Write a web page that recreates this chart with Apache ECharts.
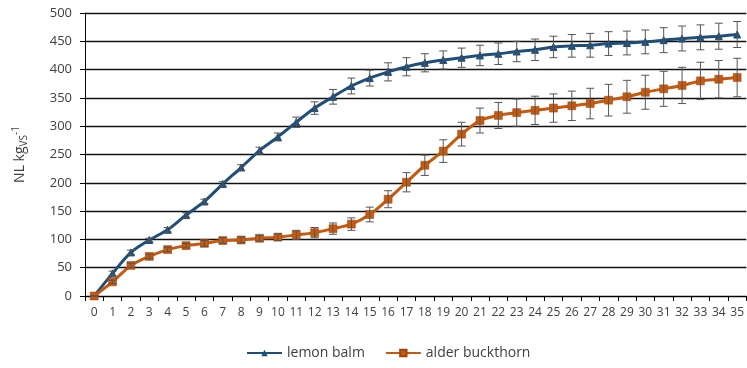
<!DOCTYPE html>
<html><head><meta charset="utf-8">
<script src="https://cdn.jsdelivr.net/npm/echarts@6/dist/echarts.min.js"></script>
<style>html,body{margin:0;padding:0;background:#fff}#c{width:747px;height:368px}</style>
</head><body><div id="c"></div>
<script>
var categories = [];
for (var i = 0; i <= 35; i++) categories.push(String(i));
var lemonBalm = [0,40,77,99,117,143,167,198,227,257,281,307,332,352,371,385,396,405,412,417,421,425,428,432,435,440,442,443,446,447,449,452,455,457,459,462];
var lemonErr  = [0,4,4,3,4,4,4,4,5,6,7,9,11,13,14,14,16,16,16,16,17,18,19,18,19,19,20,21,21,21,21,22,22,22,23,23];
var alderBuck = [0,25,54,70,82,89,93,98,99,102,104,108,112,119,127,144,171,201,231,256,286,310,319,324,328,332,336,340,346,352,360,366,372,380,383,386];
var alderErr  = [0,3,4,4,4,4,5,5,5,5,6,8,9,10,11,13,15,17,18,20,21,22,23,24,25,25,26,27,28,29,30,31,32,33,33,34];
var yTicks = [0,50,100,150,200,250,300,350,400,450,500];

function errData(vals, errs){
  return vals.map(function(v,i){ return [i, v - errs[i], v + errs[i]]; });
}
function renderErr(params, api){
  var x = api.value(0);
  var lo = api.coord([x, api.value(1)]);
  var hi = api.coord([x, api.value(2)]);
  var w = 4;
  var st = {stroke:'#555', lineWidth:1};
  return {type:'group', children:[
    {type:'line', shape:{x1:hi[0],y1:hi[1],x2:lo[0],y2:lo[1]}, style:st},
    {type:'line', shape:{x1:hi[0]-w,y1:hi[1],x2:hi[0]+w,y2:hi[1]}, style:st},
    {type:'line', shape:{x1:lo[0]-w,y1:lo[1],x2:lo[0]+w,y2:lo[1]}, style:st}
  ]};
}
var blue = '#1f4e79', orange = '#c55a11';
var chart = echarts.init(document.getElementById('c'));
chart.setOption({
  animation:false,
  textStyle:{fontFamily:'Open Sans', color:'#404040'},
  grid:{left:85, right:-1, top:13, bottom:72},
  legend:{
    top:341, left:241, itemGap:20, itemWidth:35, itemHeight:8,
    textStyle:{fontSize:14, color:'#404040', fontFamily:'Open Sans'},
    data:['lemon balm','alder buckthorn']
  },
  xAxis:{
    type:'category', data:categories, boundaryGap:true,
    axisLine:{lineStyle:{color:'#000', width:1}},
    axisTick:{show:true, alignWithLabel:false, length:5, lineStyle:{color:'#000'}},
    axisLabel:{interval:0, fontSize:12, color:'#404040', margin:11}
  },
  yAxis:{
    type:'value', min:0, max:500, interval:50,
    name:'NL kg{sub|VS}{sup|-1}', nameLocation:'middle', nameGap:56, nameRotate:90,
    nameTextStyle:{fontSize:14, color:'#404040', rich:{sub:{fontSize:10, verticalAlign:'bottom', padding:[6,0,0,0]}, sup:{fontSize:10, verticalAlign:'top', padding:[0,0,8,0]}}},
    axisLine:{show:true, lineStyle:{color:'#000'}},
    axisTick:{show:true, length:5, lineStyle:{color:'#000'}},
    axisLabel:{fontSize:13, color:'#404040', margin:13, formatter:function(v){ return yTicks.indexOf(v) >= 0 ? String(v) : ''; }},
    splitLine:{lineStyle:{color:'#111', width:1.3}}
  },
  series:[
    {name:'lemon balm', type:'line', data:lemonBalm, smooth:0.3, color:blue,
     lineStyle:{width:3, color:blue}, symbol:'triangle', symbolSize:7,
     itemStyle:{color:blue, borderColor:blue}, z:3},
    {name:'alder buckthorn', type:'line', data:alderBuck, smooth:0.3, color:orange,
     lineStyle:{width:3, color:orange}, symbol:'rect', symbolSize:8,
     itemStyle:{color:orange, borderColor:'#a0460c', borderWidth:0.5}, z:3},
    {type:'custom', renderItem:renderErr, data:errData(lemonBalm, lemonErr), z:4, silent:true, encode:{x:0,y:[1,2]}},
    {type:'custom', renderItem:renderErr, data:errData(alderBuck, alderErr), z:4, silent:true, encode:{x:0,y:[1,2]}}
  ]
});
</script></body></html>
